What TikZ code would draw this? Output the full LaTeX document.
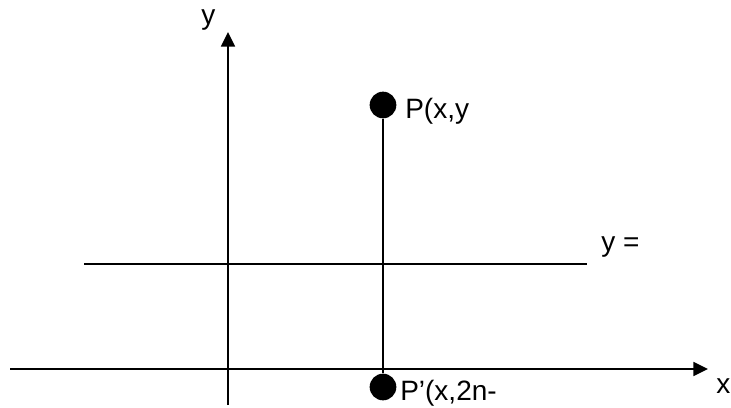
\documentclass[tikz,border=0pt]{standalone}
\usepackage{fontspec}
\setmainfont{Liberation Sans}
\usetikzlibrary{arrows.meta, positioning}

\tikzset{
  axis/.style={line width=1.3pt, -{Triangle[length=11pt, width=10.5pt]}},
  dot/.style={circle, fill=black, inner sep=0pt, minimum size=20pt},
  lbl/.style={anchor=base west, inner sep=0pt, font=\fontsize{21}{24}\selectfont}
}

\begin{document}
\begin{tikzpicture}[x=0.75pt, y=-0.75pt]
  \useasboundingbox (0,0) rectangle (731,407);

  % Axes
  \coordinate (xstart) at (10,369);
  \coordinate (xend) at (708,369);
  \coordinate (ystart) at (228,405);
  \coordinate (yend) at (228,32);
  \draw[axis] (xstart) -- (xend);
  \draw[axis] (ystart) -- (yend);
  \node[lbl] (xlab) at (716,393) {x};
  \node[lbl] (ylab) at (201,24) {y};

  % Mirror line
  \coordinate (mleft) at (84,264);
  \coordinate (mright) at (587,264);
  \draw[line width=1.3pt] (mleft) -- (mright);
  \node[lbl] (mlab) at (601,251) {y =};

  % Point and its image
  \node[dot] (P) at (383,105) {};
  \node[dot] (Pp) at (383,387) {};
  \draw[line width=1.3pt] (P) -- (Pp);
  \node[lbl] (Plab) at (405,118) {P(x,y};
  \node[lbl] (Pplab) at (400,400) {P'(x,2n-};
\end{tikzpicture}
\end{document}
